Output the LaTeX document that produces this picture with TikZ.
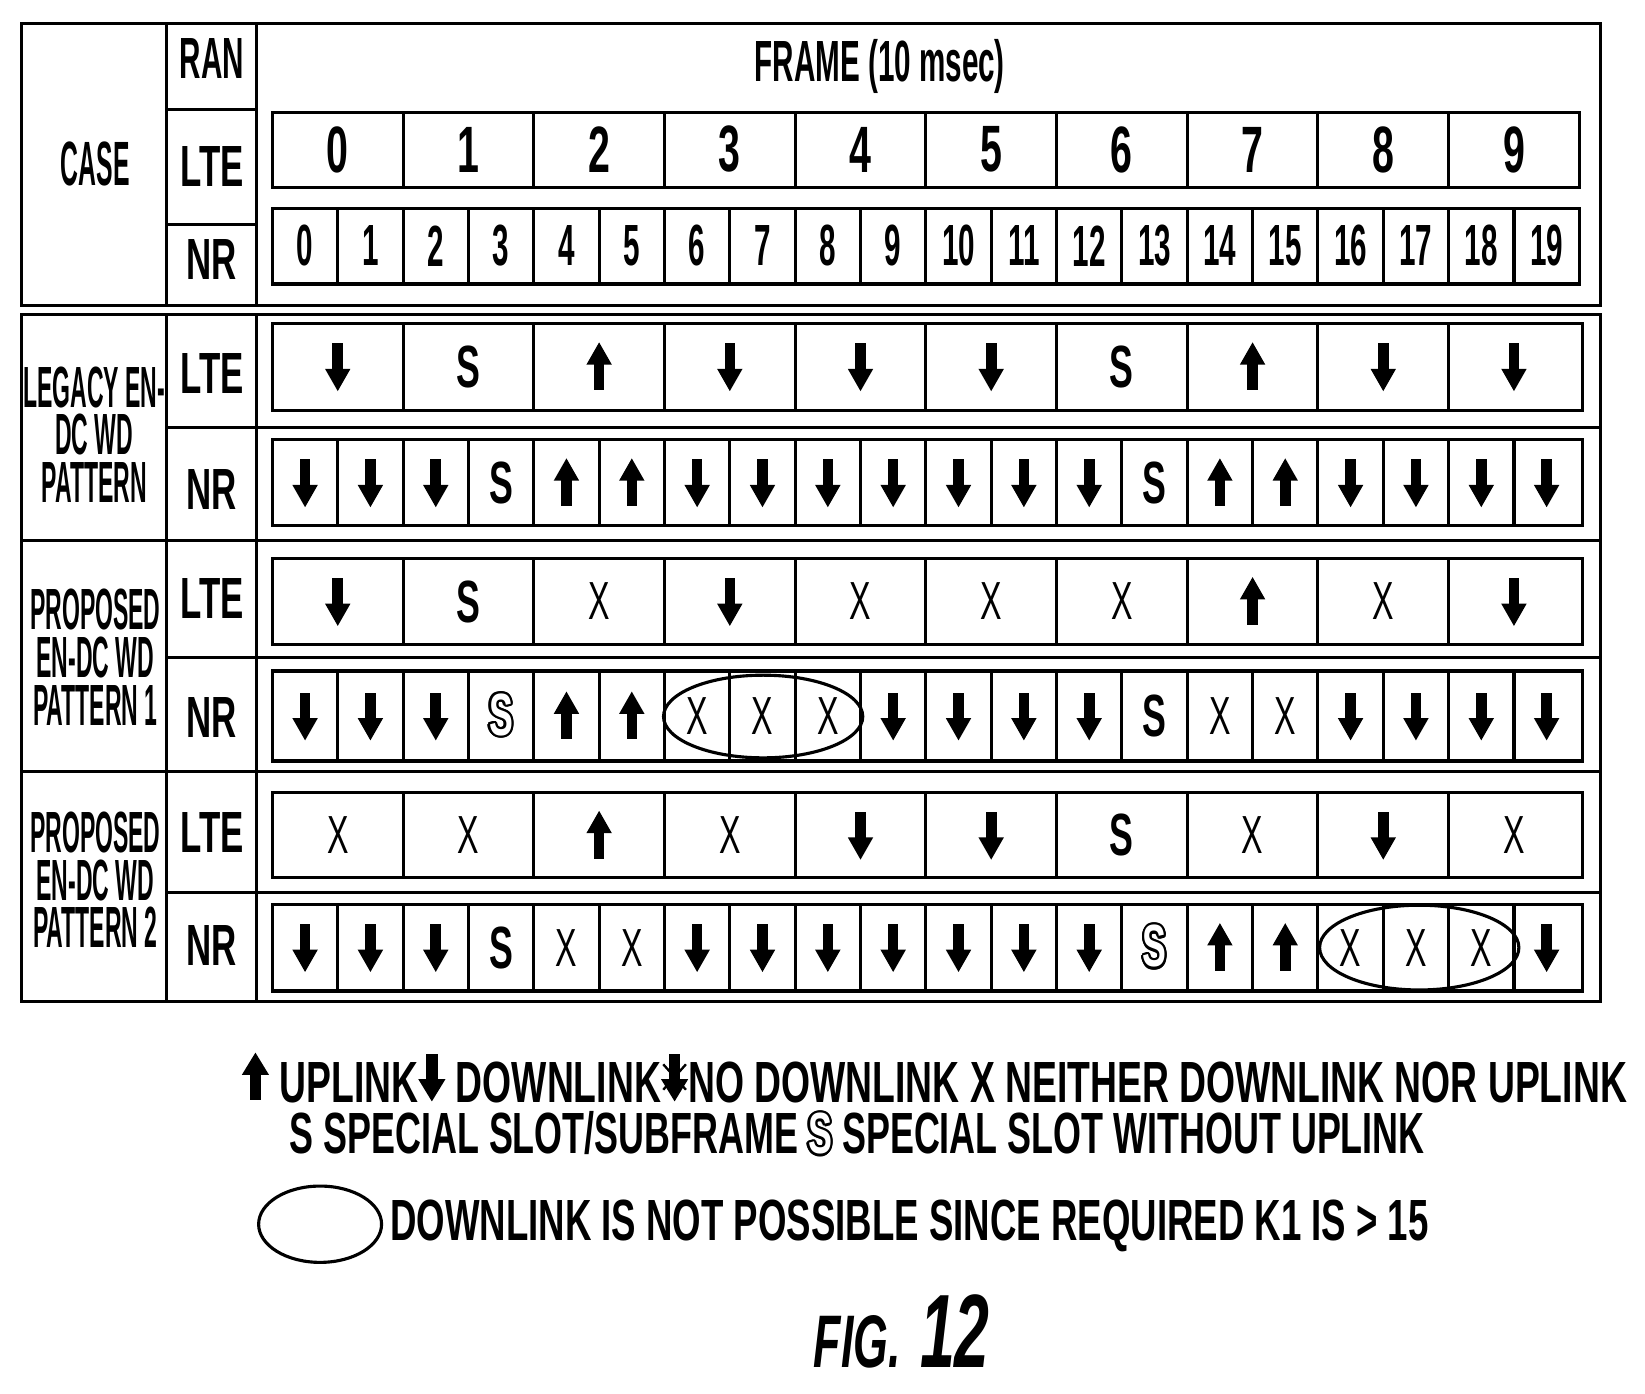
\documentclass[tikz,border=0pt]{standalone}
\usepackage{fontspec}
\setmainfont{Liberation Sans}[FakeStretch=0.6]
\usepackage{contour}
\contourlength{3pt}
\usepackage{graphicx}
\tikzset{
 grid/.style={line width=4.2pt},
 lbl/.style={font=\bfseries\fontsize{78}{80}\selectfont},
 dn/.pic={\fill (-5,-22) rectangle (5,4); \fill (-12,2)--(12,2)--(0,23)--cycle;},
 up/.pic={\fill (-5,22) rectangle (5,-4); \fill (-12,-2)--(12,-2)--(0,-23)--cycle;},
 S/.pic={\node[font=\bfseries\fontsize{80}{80}\selectfont] {S};},
 X/.pic={\node[font=\fontsize{72}{72}\selectfont] {X};},
 SS/.pic={\node[font=\bfseries\fontsize{80}{80}\selectfont] {\contour{black}{\textcolor{white}{S}}};},
}
\newcommand{\upa}{\tikz[x=0.05cm,y=-0.05cm,baseline=-6pt]{\pic at (0,-20) {up};}}
\newcommand{\dna}{\tikz[x=0.05cm,y=-0.05cm,baseline=-6pt]{\pic at (0,-20) {dn};}}
\newcommand{\nda}{\tikz[x=0.05cm,y=-0.05cm,baseline=-6pt]{\pic at (0,-20) {dn};\draw[line width=3pt] (-10,-32)--(10,-8) (10,-32)--(-10,-8);}}
\newcommand{\cs}[1]{\scalebox{0.66}[1]{#1}}
\begin{document}
\begin{tikzpicture}[x=0.05cm,y=-0.05cm]
\useasboundingbox (0,0) rectangle (1552,1315);
% header
\draw[grid] (20,22) rectangle (1510,288);
\draw[grid] (157,22)--(157,288) (242,22)--(242,288) (157,103)--(242,103) (157,212)--(242,212);
\node[lbl] (case) at (90,155) {\cs{\fontsize{84}{84}\selectfont CASE}};
\node[lbl] (ran) at (200,55) {\scalebox{0.85}[1]{RAN}};
\node[lbl] (hl) at (200,157) {LTE};
\node[lbl] (hn) at (200,245) {NR};
\node[lbl] (frame) at (830,63) {\scalebox{0.85}[1]{FRAME (10 msec)}};
\draw[grid] (257,106) rectangle (1490,177);
\draw[grid] (257,197) rectangle (1490,268);
\foreach \i in {1,...,9} \draw[grid] ({257+\i*123.3},106)--({257+\i*123.3},177);
\foreach \i in {1,...,19} \draw[grid] ({257+\i*61.65},197)--({257+\i*61.65},268);
\foreach \i in {0,...,9} \node[lbl,font=\bfseries\fontsize{88}{88}\selectfont] at ({257+(\i+0.5)*123.3},141) {\i};
\foreach \i in {0,...,19} \node[lbl] at ({257+(\i+0.5)*61.65},232) {\scalebox{0.85}[1]{\i}};
% body
\draw[grid] (20,297) rectangle (1510,945);
\draw[grid] (157,297)--(157,945) (242,297)--(242,945);
\draw[grid] (20,510)--(1510,510) (20,728)--(1510,728);
\draw[grid] (157,403)--(1510,403) (157,620)--(1510,620) (157,842)--(1510,842);
\node[lbl,align=center,font=\bfseries\fontsize{78}{64}\selectfont] (c1) at (89,410) {\cs{LEGACY EN-}\\\cs{DC WD}\\\cs{PATTERN}};
\node[lbl,align=center,font=\bfseries\fontsize{78}{64}\selectfont] (c2) at (90,620) {\cs{PROPOSED}\\\cs{EN-DC WD}\\\cs{PATTERN 1}};
\node[lbl,align=center,font=\bfseries\fontsize{78}{64}\selectfont] (c3) at (90,830) {\cs{PROPOSED}\\\cs{EN-DC WD}\\\cs{PATTERN 2}};
\foreach \y/\t in {352/LTE,462/NR,565/LTE,677/NR,785/LTE,892/NR} \node[lbl] at (200,\y) {\t};
% rows
\newcommand{\lterow}[3]{%
 \draw[grid] (257,#1) rectangle (1493,#2);
 \foreach \i in {1,...,9} \draw[grid] ({257+\i*123.3},#1)--({257+\i*123.3},#2);
 \foreach \s [count=\i from 0] in {#3} \pic at ({257+(\i+0.5)*123.3},{(#1+#2)/2}) {\s};}
\newcommand{\nrrow}[3]{%
 \draw[grid] (257,#1) rectangle (1493,#2);
 \foreach \i in {1,...,19} \draw[grid] ({257+\i*61.65},#1)--({257+\i*61.65},#2);
 \foreach \s [count=\i from 0] in {#3} \pic at ({257+(\i+0.5)*61.65},{(#1+#2)/2}) {\s};}
\lterow{305}{387}{dn,S,up,dn,dn,dn,S,up,dn,dn}
\nrrow{415}{496}{dn,dn,dn,S,up,up,dn,dn,dn,dn,dn,dn,dn,S,up,up,dn,dn,dn,dn}
\lterow{527}{608}{dn,S,X,dn,X,X,X,up,X,dn}
\nrrow{633}{718}{dn,dn,dn,SS,up,up,X,X,X,dn,dn,dn,dn,S,X,X,dn,dn,dn,dn}
\lterow{748}{828}{X,X,up,X,dn,dn,S,X,dn,X}
\nrrow{853}{935}{dn,dn,dn,S,X,X,dn,dn,dn,dn,dn,dn,dn,SS,up,up,X,X,X,dn}
\draw[grid] (720,676) ellipse (94 and 39);
\draw[grid] (1339,894) ellipse (94 and 40);
% legend
\node[lbl,anchor=west,inner sep=0] (l1) at (228,1017) {\scalebox{1.07}[1]{\upa\ UPLINK\dna\ DOWNLINK\nda NO DOWNLINK X NEITHER DOWNLINK NOR UPLINK}};
\node[lbl,anchor=west,inner sep=0] (l2) at (273,1070) {\scalebox{1.03}[1]{S SPECIAL SLOT/SUBFRAME \contour{black}{\textcolor{white}{S}} SPECIAL SLOT WITHOUT UPLINK}};
\draw[grid] (302,1155) ellipse (58 and 36);
\node[lbl,anchor=west,inner sep=0] (l3) at (368,1157) {\scalebox{1.05}[1]{DOWNLINK IS NOT POSSIBLE SINCE REQUIRED K1 IS > 15}};
\node[font=\bfseries\itshape\fontsize{100}{100}\selectfont,anchor=base east,inner sep=0] (fig) at (850,1290) {FIG.};
\node[font=\bfseries\itshape\fontsize{140}{140}\selectfont,anchor=base west,inner sep=0] (num) at (868,1290) {12};
\end{tikzpicture}
\end{document}
